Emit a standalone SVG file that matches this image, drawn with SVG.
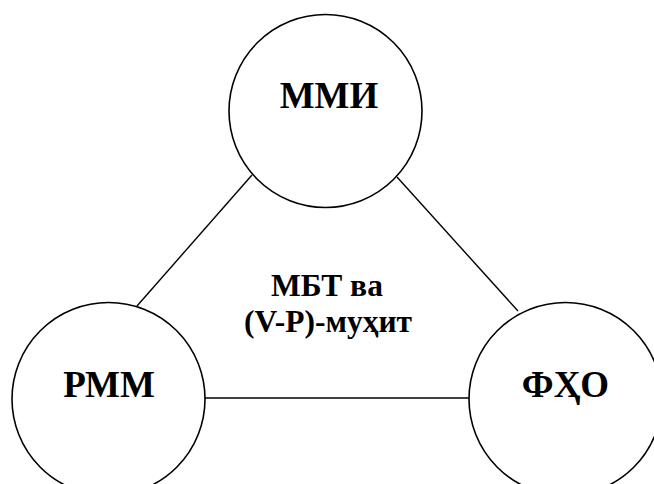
<svg xmlns="http://www.w3.org/2000/svg" width="654" height="484" viewBox="0 0 654 484">
<style>
.n{fill:#fff;stroke:#000;stroke-width:1.6}
.e{stroke:#000;stroke-width:1.4;fill:none}
.t{font-family:"Liberation Serif","Times New Roman",serif;font-weight:bold;fill:#000;text-anchor:middle}
.big{font-size:37px}
.mid{font-size:31.5px}
</style>
<rect width="654" height="484" fill="#fff"/>
<g id="connectors">
<line class="e" x1="137" y1="306" x2="252" y2="175"/>
<line class="e" x1="397" y1="177" x2="518" y2="311"/>
<line class="e" x1="205" y1="398" x2="469" y2="398"/>
</g>
<g id="node-mmi">
<circle class="n" cx="325.5" cy="111" r="96.5"/>
<text class="t big" x="329" y="108">ММИ</text>
</g>
<g id="node-rmm">
<circle class="n" cx="108.5" cy="399" r="96.5"/>
<text class="t big" x="109" y="397">РММ</text>
</g>
<g id="node-fho">
<circle class="n" cx="565.5" cy="399" r="96.5"/>
<text class="t big" x="565.5" y="397">ФҲО</text>
</g>
<g id="center-label">
<text class="t mid" x="327" y="296">МБТ ва</text>
<text class="t mid" x="328" y="332">(V-P)-муҳит</text>
</g>
</svg>
